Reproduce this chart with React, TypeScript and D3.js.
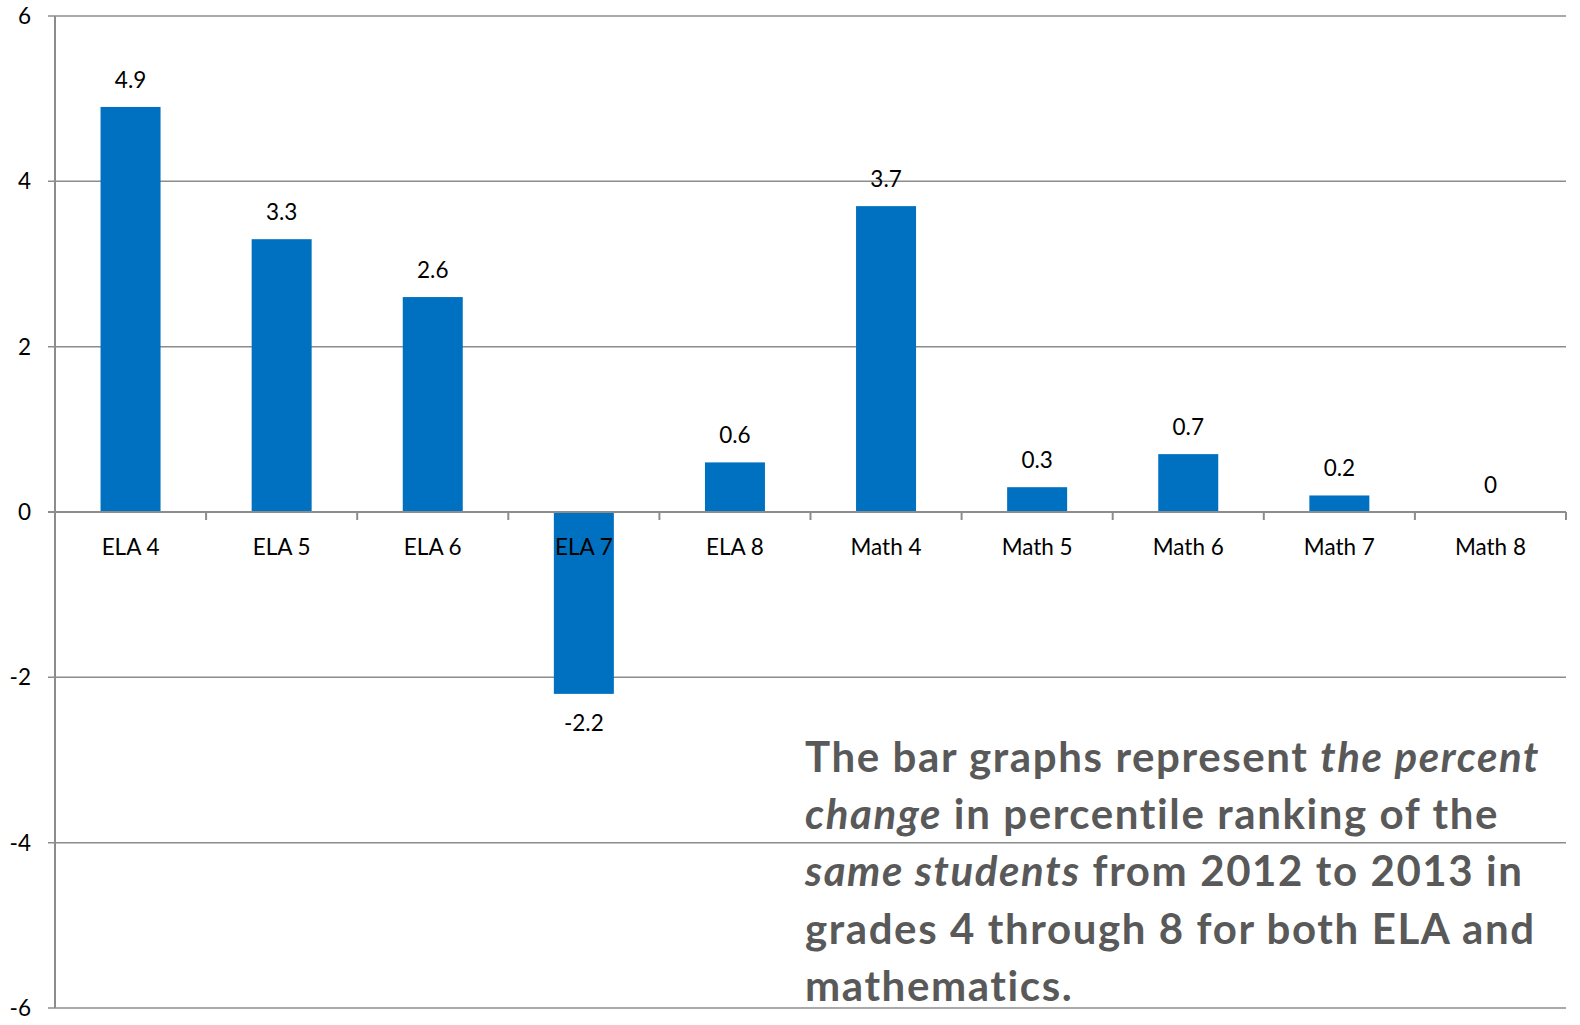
import React, { useEffect } from "react";
import * as d3 from "d3";

const categories = ["ELA 4", "ELA 5", "ELA 6", "ELA 7", "ELA 8", "Math 4", "Math 5", "Math 6", "Math 7", "Math 8"];
const values = [4.9, 3.3, 2.6, -2.2, 0.6, 3.7, 0.3, 0.7, 0.2, 0];
const yTicks = [-6, -4, -2, 0, 2, 4, 6];

const W = 1580, H = 1025;
const left = 55, right = 1566, top = 16, bottom = 1008;
const FONT = "Lato, 'Open Sans', sans-serif";

export default function App() {
  useEffect(() => {
    document.body.style.margin = "0";
    document.body.style.overflow = "hidden";
  }, []);
  const band = d3.scaleBand<string>().domain(categories).range([left, right]);
  const y = d3.scaleLinear().domain([-6, 6]).range([bottom, top]);
  const grid = "#8c8c8c";
  const y0 = y(0);
  const bw = band.bandwidth();
  const barW = 60;

  return (
    <svg width={W} height={H} style={{ position: "fixed", left: 0, top: 0, background: "#fff", display: "block" }} fontFamily={FONT}>
      {yTicks.map((t) => (
        <g key={t}>
          {t !== 0 && <line x1={48} x2={right} y1={y(t)} y2={y(t)} stroke={grid} strokeWidth={1.5} />}
          <text x={31} y={y(t) + 8} textAnchor="end" fontSize={22.5} fill="#000">{t}</text>
        </g>
      ))}
      {categories.map((c, i) => {
        const v = values[i];
        const cx = (band(c) as number) + bw / 2;
        const yv = y(v);
        return (
          <g key={c}>
            {v !== 0 && (
              <rect x={cx - barW / 2} y={Math.min(yv, y0)} width={barW} height={Math.abs(yv - y0)} fill="#0070C0" />
            )}
            <text x={cx} y={v >= 0 ? yv - 19 : yv + 37} textAnchor="middle" fontSize={22.5} fill="#000">{v}</text>
            <text x={cx} y={555} textAnchor="middle" fontSize={22.5} fill="#000">{c}</text>
          </g>
        );
      })}
      <line x1={left} x2={left} y1={top} y2={bottom} stroke={grid} strokeWidth={2} />
      <line x1={48} x2={right} y1={y0} y2={y0} stroke={grid} strokeWidth={2} />
      {d3.range(categories.length + 1).map((i) => {
        const tx = left + i * bw;
        return <line key={i} x1={tx} x2={tx} y1={y0} y2={y0 + 8} stroke={grid} strokeWidth={2} />;
      })}
      <g fontSize={42} fontWeight="bold" fill="#595959" letterSpacing={1.6}>
        <text x={805} y={772}>The bar graphs represent <tspan fontStyle="italic">the percent</tspan></text>
        <text x={805} y={829}><tspan fontStyle="italic">change</tspan> in percentile ranking of the</text>
        <text x={805} y={886}><tspan fontStyle="italic">same students</tspan> from 2012 to 2013 in</text>
        <text x={805} y={944}>grades 4 through 8 for both ELA and</text>
        <text x={805} y={1001}>mathematics.</text>
      </g>
    </svg>
  );
}
